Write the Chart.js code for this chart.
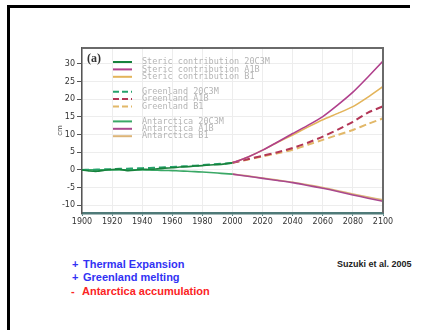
<!DOCTYPE html>
<html lang="en">
<head>
  <meta charset="UTF-8" />
  <title>Sea level contributions</title>
  <script src="https://cdn.jsdelivr.net/npm/chart.js"></script>
  <style>
    html, body { overflow: hidden; }
    body {
      margin: 0;
      width: 439px;
      height: 330px;
      background: #fff;
      position: relative;
      font-family: 'Liberation Sans', Arial, sans-serif;
    }
    .edge-top { position: absolute; left: 7px; top: 5px; width: 403px; height: 3px; background: #000; }
    .edge-left { position: absolute; left: 7px; top: 5px; width: 3px; height: 325px; background: #000; }
    .plot { position: absolute; left: 56px; top: 40px; width: 344px; height: 200px; }
    .note { position: absolute; font-weight: bold; font-size: 11px; white-space: nowrap; }
    .blue { color: #3232f4; }
    .red { color: #fb2424; }
    .cite { position: absolute; left: 337px; top: 259px; font-size: 9px; font-weight: bold; color: #222; white-space: nowrap; }
  </style>
</head>
<body>
  <div class="edge-top"></div>
  <div class="edge-left"></div>
  <div class="plot"><canvas id="chart" width="344" height="200"></canvas></div>

  <div class="note blue" style="left:72px; top:258px">+</div>
  <div class="note blue" style="left:83px; top:258px">Thermal Expansion</div>
  <div class="note blue" style="left:72px; top:271px">+</div>
  <div class="note blue" style="left:83px; top:271px">Greenland melting</div>
  <div class="note red" style="left:71px; top:285px">-</div>
  <div class="note red" style="left:82px; top:285px">Antarctica accumulation</div>
  <div class="cite">Suzuki et al. 2005</div>

  <script>
    // 20th century runs (20C3M)
    const histYears = [1900, 1905, 1910, 1915, 1920, 1925, 1930, 1935, 1940, 1945, 1950,
                       1955, 1960, 1965, 1970, 1975, 1980, 1985, 1990, 1995, 2000];
    const stericHist = [0, -0.3, -0.4, -0.1, 0.1, 0.2, -0.2, -0.1, 0.2, 0.1, 0.3,
                        0.5, 0.6, 0.8, 0.9, 1.1, 1.2, 1.4, 1.5, 1.7, 2.0];
    const greenlandHist = [0, 0.05, 0.1, 0.15, 0.2, 0.3, 0.35, 0.4, 0.5, 0.55, 0.65,
                           0.75, 0.85, 0.95, 1.05, 1.2, 1.35, 1.5, 1.65, 1.8, 2.0];
    const antarcticaHist = [0, 0, 0, 0, 0, 0, 0, 0, -0.05, -0.05, -0.1,
                            -0.15, -0.2, -0.3, -0.4, -0.5, -0.6, -0.75, -0.9, -1.05, -1.2];

    // scenario runs
    const futureYears = [2000, 2010, 2020, 2030, 2040, 2050, 2060, 2070, 2080, 2090, 2100];
    const stericA1B = [2, 3.6, 5.6, 7.9, 10.3, 12.6, 15.1, 18.4, 22, 26.3, 30.8];
    const stericB1 = [2, 3.6, 5.6, 7.8, 9.9, 12.1, 14.2, 16, 17.9, 20.6, 23.6];
    const greenlandA1B = [2, 3, 4, 5, 6.2, 7.7, 9.4, 11.4, 13.6, 16.2, 18];
    const greenlandB1 = [2, 2.9, 3.8, 4.7, 5.7, 7.1, 8.5, 9.9, 11.3, 13, 14.6];
    const antarcticaA1B = [-1.2, -1.8, -2.4, -3, -3.6, -4.4, -5.2, -6.1, -7.1, -8, -8.9];
    const antarcticaB1 = [-1.2, -1.7, -2.3, -2.9, -3.5, -4.2, -5, -5.9, -6.8, -7.7, -8.5];

    const xTicks = [1900, 1920, 1940, 1960, 1980, 2000, 2020, 2040, 2060, 2080, 2100];
    const yTicks = [-10, -5, 0, 5, 10, 15, 20, 25, 30];

    const pts = (xs, ys) => xs.map((x, i) => ({ x, y: ys[i] }));
    const dash = [7, 4];

    const line = (label, xs, ys, color, dashed) => ({
      label,
      data: pts(xs, ys),
      borderColor: color,
      borderWidth: dashed ? 2 : 1.6,
      borderDash: dashed ? dash : [],
      pointRadius: 0,
      fill: false,
      tension: 0.2
    });

    const datasets = [
      line('Steric contribution 20C3M', histYears, stericHist, '#17823c', false),
      line('Steric contribution A1B', futureYears, stericA1B, '#b0408c', false),
      line('Steric contribution B1', futureYears, stericB1, '#e3b45a', false),
      line('Greenland 20C3M', histYears, greenlandHist, '#25a26c', true),
      line('Greenland A1B', futureYears, greenlandA1B, '#b23656', true),
      line('Greenland B1', futureYears, greenlandB1, '#e2b869', true),
      line('Antarctica 20C3M', histYears, antarcticaHist, '#3aa866', false),
      line('Antarctica A1B', futureYears, antarcticaA1B, '#a9488e', false),
      line('Antarctica B1', futureYears, antarcticaB1, '#dcb478', false)
    ];

    // frame, panel letter and the in-plot legend
    const decor = {
      id: 'decor',
      afterDraw(chart) {
        const { ctx, chartArea: a } = chart;
        ctx.save();
        ctx.strokeStyle = '#6a6a6a';
        ctx.lineWidth = 2;
        ctx.beginPath();
        ctx.moveTo(a.left, a.top);
        ctx.lineTo(a.right, a.top);
        ctx.lineTo(a.right, a.bottom);
        ctx.stroke();

        ctx.fillStyle = '#333';
        ctx.font = 'bold 12px "Liberation Serif", serif';
        ctx.textBaseline = 'alphabetic';
        ctx.fillText('(a)', a.left + 5, a.top + 14);

        ctx.font = '8.5px "DejaVu Sans Mono", monospace';
        ctx.textBaseline = 'middle';
        chart.data.datasets.forEach((ds, i) => {
          const y = a.top + 14 + Math.floor(i / 3) * 29.7 + (i % 3) * 7.4;
          ctx.strokeStyle = ds.borderColor;
          ctx.lineWidth = 2;
          ctx.setLineDash(ds.borderDash.length ? [6, 3] : []);
          ctx.beginPath();
          ctx.moveTo(a.left + 31, y);
          ctx.lineTo(a.left + 50, y);
          ctx.stroke();
          ctx.setLineDash([]);
          ctx.fillStyle = '#b4b4b4';
          ctx.fillText(ds.label, a.left + 60, y);
        });
        ctx.restore();
      }
    };

    new Chart(document.getElementById('chart').getContext('2d'), {
      type: 'line',
      data: { datasets },
      plugins: [decor],
      options: {
        responsive: false,
        animation: false,
        layout: { padding: { top: 8, right: 17, left: 0, bottom: 0 } },
        plugins: { legend: { display: false }, tooltip: { enabled: false } },
        scales: {
          x: {
            type: 'linear',
            min: 1900,
            max: 2100,
            afterBuildTicks: s => { s.ticks = xTicks.map(v => ({ value: v })); },
            afterFit: s => { s.height = 27; },
            grid: { color: '#ededed', borderDash: [1, 2], tickLength: 3, tickColor: '#4f7a78', tickBorderDash: [] },
            border: { color: '#4f7a78', width: 2.5 },
            ticks: {
              font: { family: 'DejaVu Sans', size: 8 },
              color: '#333',
              padding: 1,
              maxRotation: 0,
              autoSkip: false,
              callback: v => String(v)
            }
          },
          y: {
            min: -12.2,
            max: 34.5,
            afterBuildTicks: s => { s.ticks = yTicks.map(v => ({ value: v })); },
            afterFit: s => { s.width = 26; },
            title: { display: true, text: 'cm', font: { family: 'DejaVu Sans', size: 7 }, color: '#444', padding: 0 },
            grid: { color: '#ededed', borderDash: [1, 2], tickLength: 5, tickColor: '#555', tickBorderDash: [] },
            border: { color: '#555', width: 1.5 },
            ticks: {
              font: { family: 'DejaVu Sans', size: 8 },
              color: '#333',
              padding: 2,
              callback: v => String(v)
            }
          }
        }
      }
    });
  </script>
</body>
</html>
